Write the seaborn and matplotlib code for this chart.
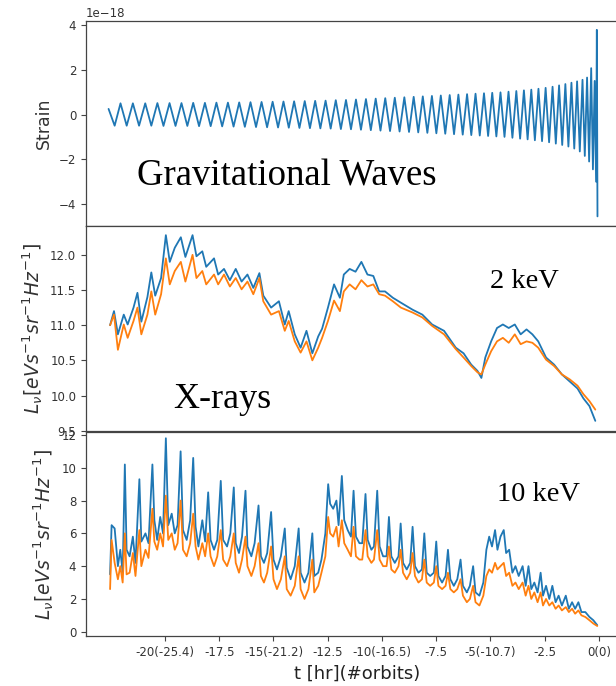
import numpy as np
import matplotlib
matplotlib.use("Agg")
import matplotlib.pyplot as plt
import seaborn as sns

# ---------------- data ----------------
# Gravitational-wave strain (units of 1e-18): extrema of the chirp
gw_t = [-22.60, -22.32, -22.05, -21.765, -21.48, -21.195, -20.91, -20.63, -20.35, -20.07,
        -19.79, -19.515, -19.24, -18.97, -18.70, -18.43, -18.16, -17.895, -17.63, -17.365,
        -17.10, -16.84, -16.58, -16.32, -16.06, -15.805, -15.55, -15.295, -15.04, -14.79,
        -14.54, -14.295, -14.05, -13.805, -13.56, -13.32, -13.08, -12.84, -12.60, -12.365,
        -12.13, -11.895, -11.66, -11.43, -11.20, -10.97, -10.74, -10.515, -10.29, -10.07,
        -9.85, -9.63, -9.41, -9.19, -8.97, -8.755, -8.54, -8.33, -8.12, -7.91,
        -7.70, -7.495, -7.29, -7.085, -6.88, -6.68, -6.48, -6.28, -6.08, -5.885,
        -5.69, -5.495, -5.30, -5.11, -4.92, -4.73, -4.54, -4.355, -4.17, -3.99,
        -3.81, -3.635, -3.46, -3.29, -3.12, -2.955, -2.79, -2.625, -2.46, -2.30,
        -2.14, -1.99, -1.84, -1.695, -1.55, -1.41, -1.27, -1.14, -1.01, -0.885,
        -0.76, -0.655, -0.55, -0.455, -0.36, -0.28, -0.20, -0.135, -0.10, -0.07]
gw_h = [0.25, -0.50, 0.50, -0.50, 0.50, -0.50, 0.50, -0.50, 0.51, -0.51,
        0.51, -0.51, 0.51, -0.51, 0.52, -0.52, 0.52, -0.52, 0.53, -0.53,
        0.53, -0.54, 0.54, -0.55, 0.55, -0.56, 0.56, -0.57, 0.57, -0.58,
        0.58, -0.59, 0.59, -0.60, 0.60, -0.61, 0.61, -0.62, 0.62, -0.63,
        0.64, -0.65, 0.65, -0.66, 0.67, -0.68, 0.69, -0.70, 0.71, -0.72,
        0.73, -0.74, 0.75, -0.76, 0.77, -0.78, 0.79, -0.80, 0.81, -0.82,
        0.83, -0.84, 0.85, -0.86, 0.87, -0.88, 0.89, -0.90, 0.91, -0.92,
        0.93, -0.94, 0.95, -0.96, 0.97, -0.98, 0.99, -1.00, 1.02, -1.04,
        1.05, -1.08, 1.08, -1.11, 1.11, -1.15, 1.15, -1.19, 1.19, -1.24,
        1.24, -1.30, 1.30, -1.36, 1.36, -1.43, 1.42, -1.52, 1.48, -1.65,
        1.55, -1.85, 1.65, -2.10, 2.07, -2.45, 1.50, -3.00, 3.78, -4.55]

# 2 keV luminosity
kev2_t = [-22.53, -22.35, -22.17, -21.90, -21.72, -21.45, -21.27, -21.09, -20.81, -20.63,
          -20.45, -20.18, -19.96, -19.78, -19.55, -19.27, -19.06, -18.73, -18.55, -18.28,
          -18.10, -17.74, -17.55, -17.28, -17.01, -16.74, -16.47, -16.20, -15.93, -15.65,
          -15.47, -15.11, -14.75, -14.48, -14.30, -14.02, -13.75, -13.48, -13.21, -12.94,
          -12.76, -12.49, -12.21, -11.94, -11.76, -11.49, -11.22, -10.95, -10.67, -10.40,
          -10.13, -9.86, -9.50, -9.13, -8.59, -8.14, -7.69, -7.14, -6.60, -6.24,
          -5.89, -5.60, -5.42, -5.24, -4.97, -4.70, -4.43, -4.16, -3.88, -3.61,
          -3.34, -3.07, -2.80, -2.44, -2.07, -1.71, -1.35, -0.99, -0.72, -0.44, -0.17]
kev2_blue = [11.00, 11.20, 10.87, 11.15, 11.01, 11.25, 11.46, 11.05, 11.40, 11.75,
             11.42, 11.67, 12.28, 11.90, 12.10, 12.25, 11.97, 12.28, 11.98, 12.05,
             11.83, 11.95, 11.72, 11.80, 11.64, 11.80, 11.62, 11.72, 11.53, 11.74,
             11.42, 11.25, 11.34, 11.01, 11.20, 10.87, 10.68, 10.92, 10.60, 10.84,
             10.95, 11.25, 11.58, 11.39, 11.72, 11.80, 11.76, 11.90, 11.72, 11.70,
             11.48, 11.48, 11.39, 11.32, 11.22, 11.15, 11.01, 10.92, 10.68, 10.60,
             10.44, 10.35, 10.25, 10.54, 10.77, 10.96, 11.01, 10.96, 11.01, 10.87,
             10.94, 10.87, 10.77, 10.54, 10.44, 10.30, 10.20, 10.10, 9.96, 9.85, 9.64]
kev2_orange = [11.00, 11.15, 10.65, 11.01, 10.82, 11.06, 11.25, 10.87, 11.15, 11.48,
               11.15, 11.44, 11.95, 11.58, 11.77, 11.90, 11.62, 12.00, 11.67, 11.77,
               11.58, 11.72, 11.58, 11.72, 11.55, 11.67, 11.51, 11.62, 11.44, 11.67,
               11.34, 11.15, 11.20, 10.92, 11.06, 10.77, 10.61, 10.77, 10.50, 10.68,
               10.82, 11.06, 11.35, 11.20, 11.48, 11.58, 11.51, 11.64, 11.55, 11.58,
               11.44, 11.42, 11.34, 11.25, 11.18, 11.11, 10.99, 10.87, 10.66, 10.54,
               10.42, 10.33, 10.30, 10.44, 10.63, 10.77, 10.82, 10.75, 10.87, 10.73,
               10.77, 10.75, 10.68, 10.51, 10.42, 10.30, 10.23, 10.14, 10.02, 9.92, 9.80]

# 10 keV luminosity
kev10_t = [-22.53, -22.46, -22.32, -22.17, -22.06, -21.95, -21.85, -21.77, -21.63, -21.48,
           -21.36, -21.18, -21.09, -20.90, -20.76, -20.58, -20.49, -20.36, -20.22, -20.09,
           -19.96, -19.85, -19.69, -19.55, -19.42, -19.28, -19.17, -19.00, -18.84, -18.70,
           -18.59, -18.46, -18.28, -18.15, -18.01, -17.90, -17.74, -17.59, -17.43, -17.32,
           -17.14, -16.99, -16.83, -16.74, -16.59, -16.45, -16.29, -16.20, -16.02, -15.87,
           -15.69, -15.58, -15.44, -15.29, -15.11, -15.00, -14.84, -14.66, -14.48, -14.39,
           -14.21, -14.02, -13.84, -13.75, -13.57, -13.39, -13.21, -13.12, -12.94, -12.79,
           -12.61, -12.48, -12.39, -12.25, -12.10, -12.00, -11.85, -11.74, -11.58, -11.43,
           -11.31, -11.20, -11.04, -10.91, -10.76, -10.66, -10.49, -10.37, -10.22, -10.11,
           -9.95, -9.79, -9.68, -9.57, -9.41, -9.24, -9.14, -9.03, -8.86, -8.70,
           -8.59, -8.48, -8.32, -8.16, -8.05, -7.94, -7.78, -7.61, -7.50, -7.40,
           -7.23, -7.07, -6.96, -6.85, -6.69, -6.53, -6.38, -6.27, -6.09, -5.95,
           -5.80, -5.69, -5.51, -5.33, -5.19, -5.06, -4.93, -4.79, -4.68, -4.54,
           -4.39, -4.28, -4.14, -3.99, -3.85, -3.70, -3.52, -3.38, -3.25, -3.12,
           -2.98, -2.83, -2.69, -2.58, -2.44, -2.29, -2.15, -2.00, -1.86, -1.71,
           -1.53, -1.39, -1.24, -1.10, -0.95, -0.81, -0.63, -0.44, -0.26, -0.08]
kev10_blue = [3.5, 6.5, 6.3, 4.0, 5.0, 3.6, 10.2, 5.0, 4.6, 5.8,
              4.2, 9.3, 5.5, 6.0, 5.4, 10.2, 6.8, 5.6, 7.0, 6.0,
              11.8, 6.5, 7.2, 6.0, 6.5, 11.0, 6.2, 5.6, 6.8, 10.6,
              6.4, 5.2, 6.8, 5.5, 8.5, 5.6, 5.0, 5.6, 9.2, 5.6,
              5.2, 6.0, 8.8, 5.4, 4.8, 5.8, 8.6, 5.2, 4.6, 5.4,
              7.7, 4.6, 4.2, 4.8, 7.3, 4.4, 3.8, 4.6, 6.3, 3.9,
              3.2, 4.0, 6.3, 3.6, 3.0, 3.6, 6.0, 3.4, 3.6, 4.4,
              6.0, 9.0, 7.8, 7.5, 8.0, 6.5, 9.5, 6.8, 6.2, 5.8,
              8.6, 5.8, 5.4, 5.4, 8.4, 5.6, 5.0, 5.2, 8.6, 5.2,
              4.6, 4.6, 7.0, 4.6, 4.2, 4.6, 6.6, 4.2, 3.8, 4.2,
              6.4, 4.0, 3.6, 3.8, 6.0, 3.6, 3.4, 3.6, 5.5, 3.4,
              3.0, 3.4, 5.0, 3.2, 2.8, 3.2, 4.4, 2.8, 2.4, 2.8,
              4.0, 2.4, 2.2, 3.0, 5.0, 5.8, 5.2, 6.2, 5.0, 5.8,
              6.2, 4.8, 5.0, 3.6, 4.0, 3.4, 4.0, 2.8, 4.0, 2.6,
              3.0, 2.4, 3.6, 2.2, 2.8, 2.0, 2.8, 1.8, 2.2, 1.6,
              2.2, 1.4, 1.8, 1.4, 1.8, 1.2, 1.2, 0.9, 0.7, 0.4]
kev10_orange = [2.6, 5.6, 4.2, 3.2, 4.0, 3.0, 6.0, 3.5, 3.6, 4.8,
                3.4, 6.2, 4.0, 5.0, 4.5, 7.5, 5.5, 5.0, 6.0, 5.2,
                8.3, 5.6, 6.0, 5.0, 5.4, 8.0, 5.0, 4.6, 5.4, 7.2,
                5.2, 4.4, 5.4, 4.6, 6.0, 4.6, 4.0, 4.6, 6.2, 4.4,
                4.0, 4.6, 6.0, 4.2, 3.6, 4.4, 5.8, 4.0, 3.4, 4.0,
                5.4, 3.4, 3.0, 3.6, 5.2, 3.2, 2.6, 3.2, 4.6, 2.6,
                2.2, 2.8, 4.6, 2.6, 2.0, 2.6, 4.4, 2.4, 2.8, 3.6,
                4.6, 7.0, 6.0, 5.8, 6.4, 5.2, 6.8, 5.4, 5.0, 4.6,
                6.4, 4.6, 4.4, 4.4, 6.2, 4.6, 4.2, 4.4, 6.2, 4.4,
                4.0, 4.0, 5.2, 3.8, 3.6, 4.0, 5.0, 3.6, 3.2, 3.6,
                4.8, 3.4, 3.0, 3.2, 4.4, 3.0, 2.8, 3.0, 4.0, 2.8,
                2.6, 2.8, 3.6, 2.6, 2.4, 2.6, 3.2, 2.2, 1.8, 2.0,
                2.8, 1.8, 1.6, 2.2, 3.4, 3.8, 3.6, 4.2, 3.8, 4.0,
                4.2, 3.4, 3.6, 2.8, 3.0, 2.6, 3.0, 2.2, 2.8, 2.0,
                2.4, 1.8, 2.4, 1.6, 2.0, 1.6, 1.8, 1.4, 1.6, 1.3,
                1.5, 1.2, 1.4, 1.1, 1.3, 1.0, 0.9, 0.7, 0.5, 0.35]

xtick_pos = [-20, -17.5, -15, -12.5, -10, -7.5, -5, -2.5, 0]
xtick_labels = ["-20(-25.4)", "-17.5", "-15(-21.2)", "-12.5", "-10(-16.5)",
                "-7.5", "-5(-10.7)", "-2.5", "0(0)"]

# ---------------- figure ----------------
sns.set_theme(style="ticks")
plt.rcParams["font.family"] = ["DejaVu Sans"]
plt.rcParams["axes.edgecolor"] = "#444444"
plt.rcParams["xtick.color"] = "#444444"
plt.rcParams["ytick.color"] = "#444444"
plt.rcParams["xtick.labelcolor"] = "#333333"
plt.rcParams["ytick.labelcolor"] = "#333333"

W, H = 616, 686
fig = plt.figure(figsize=(W / 100, H / 100), dpi=100)

def pos(top_px, bot_px):
    left = 86 / W
    width = 0.88
    return [left, 1 - bot_px / H, width, (bot_px - top_px) / H]

ax1 = fig.add_axes(pos(20.7, 226))
ax2 = fig.add_axes(pos(226, 430.7))
ax3 = fig.add_axes(pos(431.7, 636))

blue = "#1f77b4"
orange = "#ff7f0e"
lw = 1.3

sns.lineplot(x=gw_t, y=np.array(gw_h) * 1e-18, ax=ax1, color=blue, lw=lw,
             estimator=None, sort=False)
sns.lineplot(x=kev2_t, y=kev2_blue, ax=ax2, color=blue, lw=lw, estimator=None, sort=False)
sns.lineplot(x=kev2_t, y=kev2_orange, ax=ax2, color=orange, lw=lw, estimator=None, sort=False)
sns.lineplot(x=kev10_t, y=kev10_blue, ax=ax3, color=blue, lw=lw, estimator=None, sort=False)
sns.lineplot(x=kev10_t, y=kev10_orange, ax=ax3, color=orange, lw=lw, estimator=None, sort=False)

xl = (-23.64, 1.34)
for ax in (ax1, ax2, ax3):
    ax.set_xlim(*xl)
    for s in ax.spines.values():
        s.set_linewidth(0.9)
    ax.tick_params(axis="both", labelsize=8.5, length=3.5, width=0.8)
    ax.set_xlabel("")

ax1.set_ylim(-4.98e-18, 4.19e-18)
ax1.set_yticks(np.array([-4, -2, 0, 2, 4]) * 1e-18)
ax1.yaxis.get_offset_text().set_fontsize(8.5)
ax1.yaxis.get_offset_text().set_color("#333333")
ax1.set_ylabel("Strain", fontsize=12.5, color="#333333")

ax2.set_ylim(9.5, 12.41)
ax2.set_yticks([9.5, 10.0, 10.5, 11.0, 11.5, 12.0])
ax2.set_yticklabels(["9.5", "10.0", "10.5", "11.0", "11.5", "12.0"])
ylab = r"$L_{\nu}[eVs^{-1}sr^{-1}Hz^{-1}]$"
ax2.set_ylabel(ylab, fontsize=13.5, color="#333333")

ax3.set_ylim(-0.26, 12.2)
ax3.set_yticks([0, 2, 4, 6, 8, 10, 12])
ax3.set_ylabel(ylab, fontsize=13.5, color="#333333")

for ax in (ax1, ax2):
    ax.set_xticks([])
ax3.set_xticks(xtick_pos)
ax3.set_xticklabels(xtick_labels)
ax3.set_xlabel("t [hr](#orbits)", fontsize=13, color="#222222")

serif = ["Liberation Serif", "DejaVu Serif"]
def ftext(px, py, s, size):
    fig.text(px / W, 1 - py / H, s, fontsize=size, family=serif,
             ha="left", va="baseline", color="black")

ftext(137, 185, "Gravitational Waves", 26.5)
ftext(173, 408, "X-rays", 26)
ftext(490, 288, "2 keV", 20.5)
ftext(497, 501, "10 keV", 20.5)

fig.savefig("out.png", dpi=100)
